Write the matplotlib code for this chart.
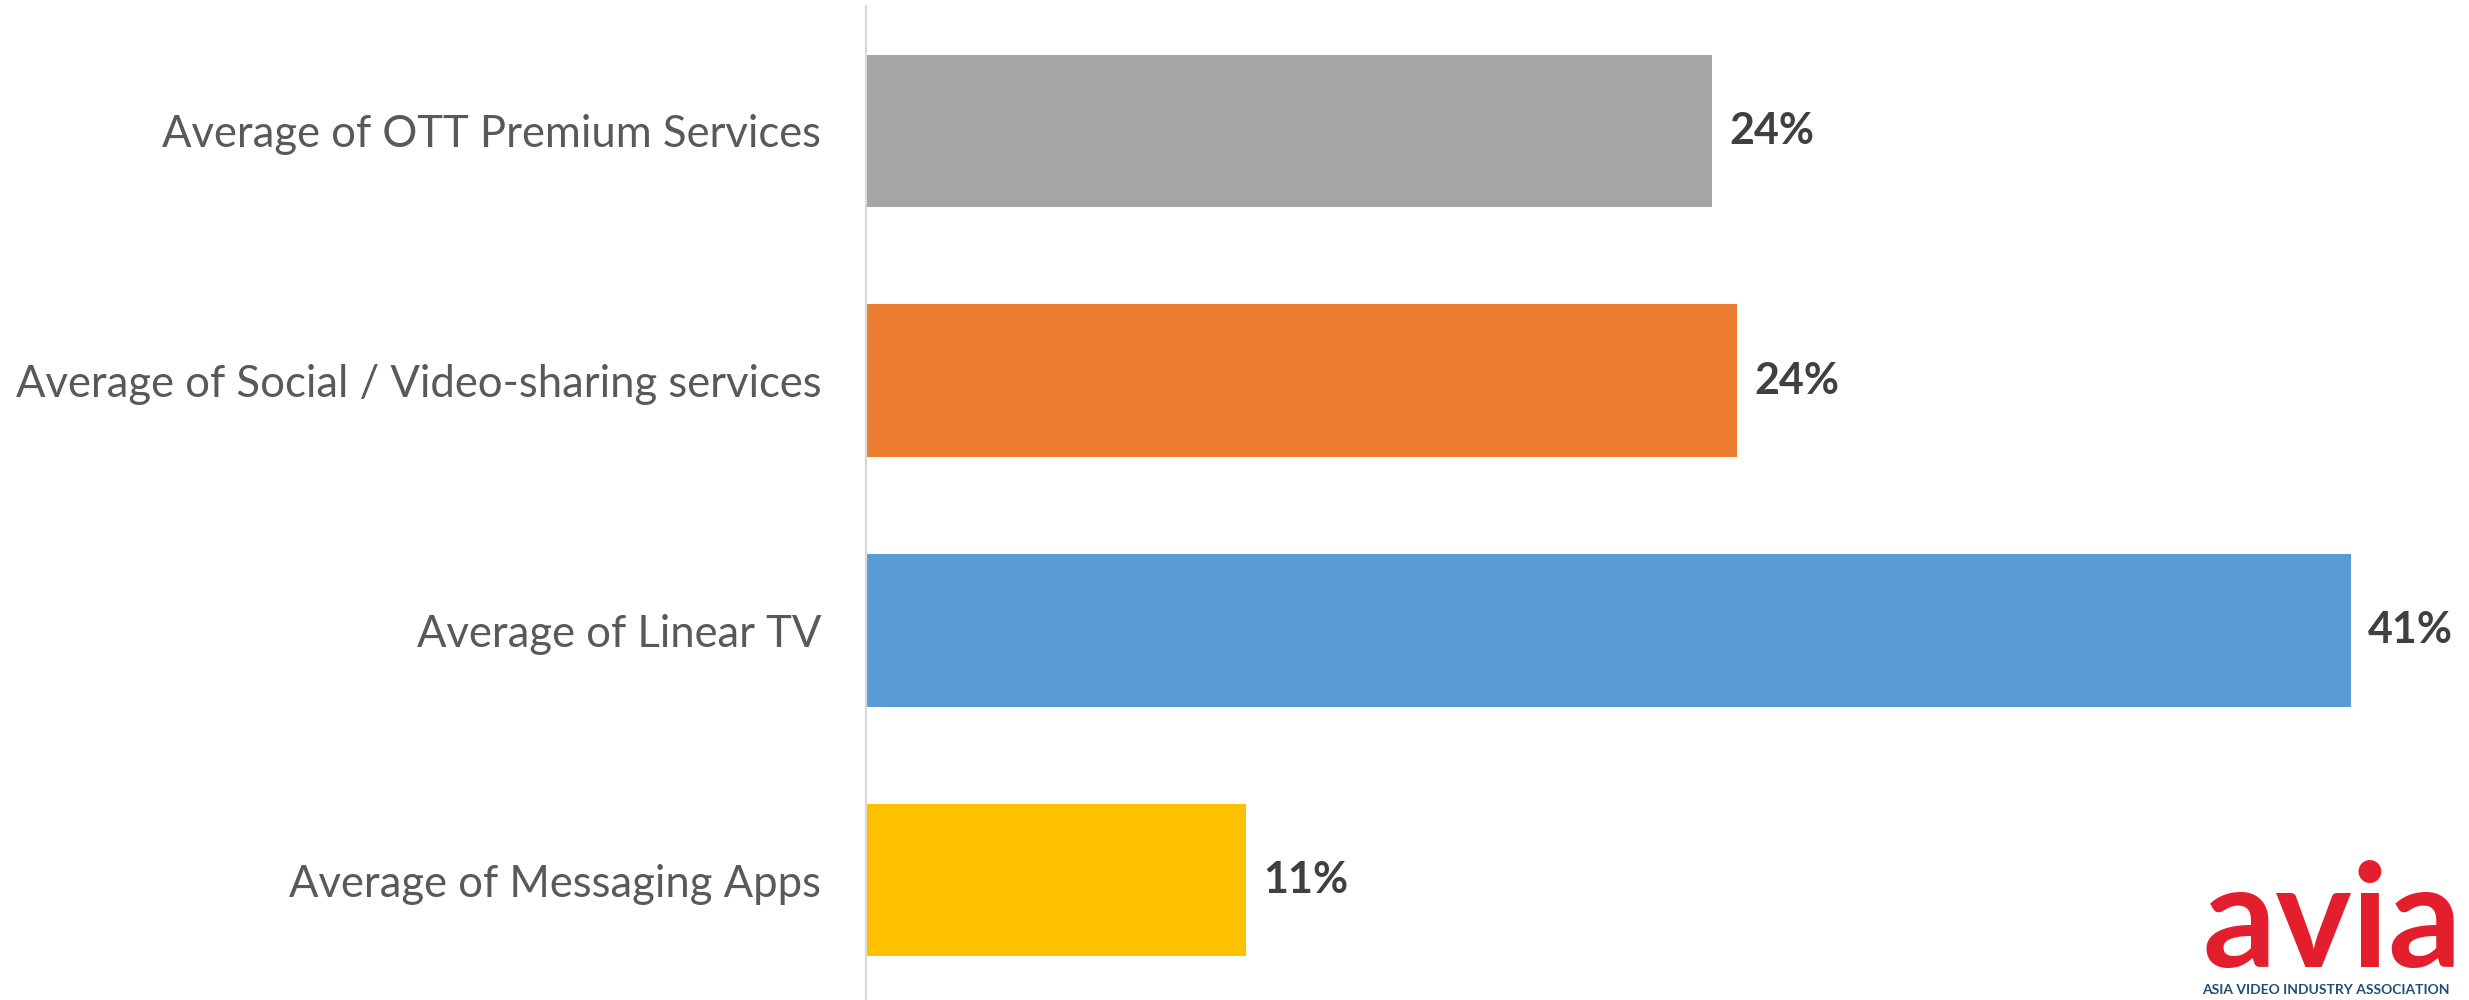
import matplotlib.pyplot as plt

categories = [
    "Average of OTT Premium Services",
    "Average of Social / Video-sharing services",
    "Average of Linear TV",
    "Average of Messaging Apps",
]
values = [23.6, 24.3, 41.4, 10.6]
colors = ["#A5A5A5", "#ED7D31", "#5B9BD5", "#FFC000"]

plt.rcParams["font.family"] = ["Lato", "DejaVu Sans"]

fig = plt.figure(figsize=(24.69, 10), dpi=100)
ax = fig.add_axes([0.3507, -0.005, 0.645, 0.999])

y = range(len(categories))
bars = ax.barh(y, values, height=0.61, color=colors)
ax.set_ylim(3.5, -0.5)
ax.set_xlim(0, 44.4)

ax.set_yticks(list(y))
ax.set_yticklabels(categories, fontsize=31.4, color="#595959")
ax.tick_params(axis="y", length=0, pad=32)
ax.set_xticks([])

for side in ["top", "right", "bottom"]:
    ax.spines[side].set_visible(False)
ax.spines["left"].set_color("#D9D9D9")
ax.spines["left"].set_linewidth(1.6)

for bar, v in zip(bars, values):
    ax.annotate(f"{v:.0f}%", (bar.get_width(), bar.get_y() + bar.get_height() / 2),
                xytext=(12, 0), textcoords="offset points",
                ha="left", va="center", fontsize=31, fontweight="bold", color="#404040")

# logo in the lower right corner
fig.text(0.892, 0.033, "avia", fontsize=104, fontweight="bold", color="#E31E2D",
         ha="left", va="baseline")
fig.text(0.892, 0.006, "ASIA VIDEO INDUSTRY ASSOCIATION", fontsize=10, fontweight="bold",
         color="#1F4E79", ha="left", va="baseline")

fig.savefig("out.png", dpi=100)
